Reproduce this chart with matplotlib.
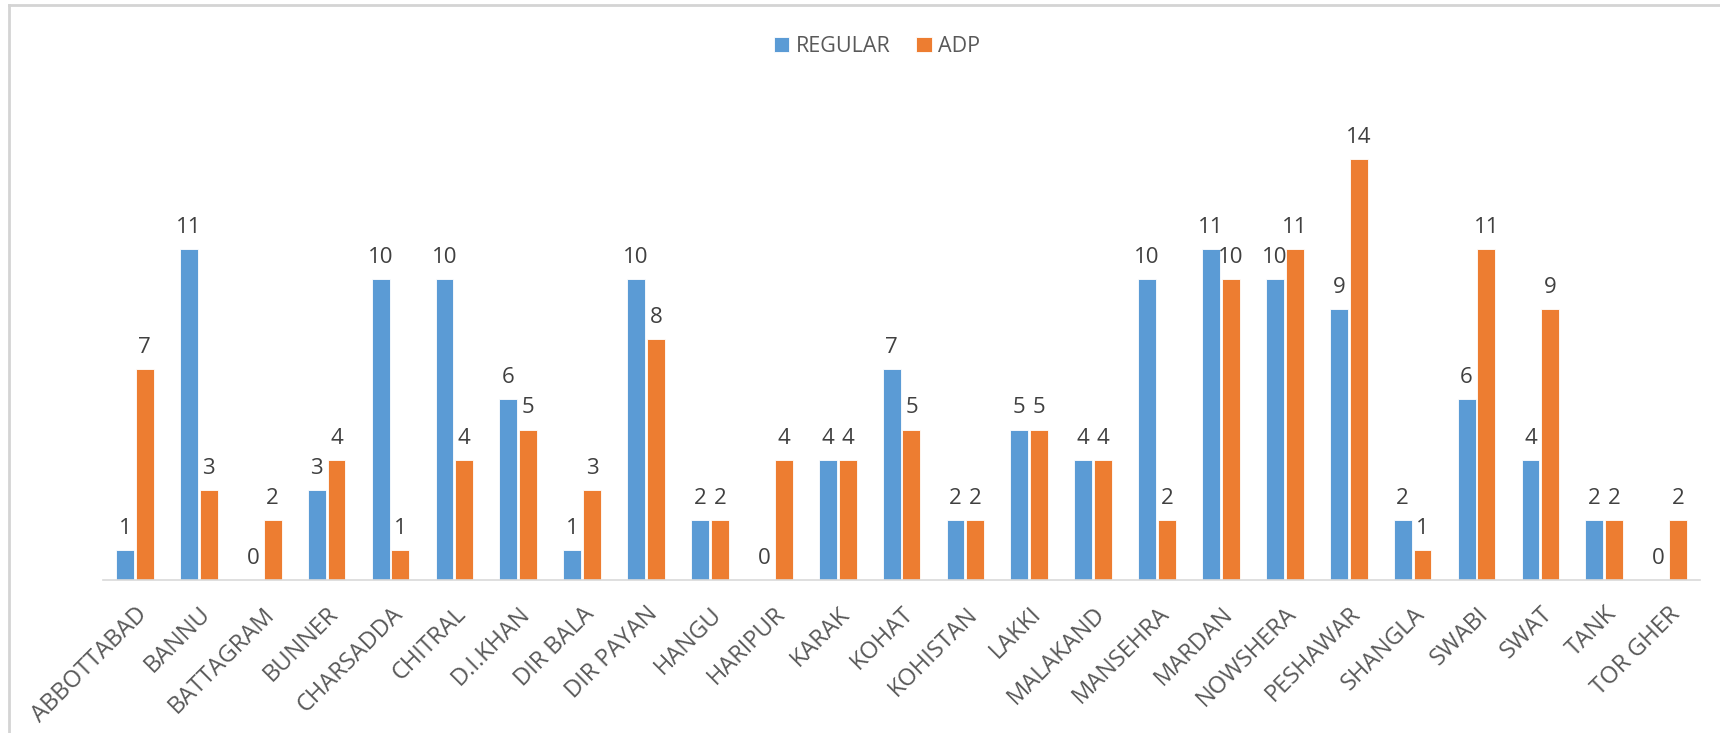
import matplotlib.pyplot as plt
from matplotlib.lines import Line2D
import numpy as np

plt.rcParams['font.family'] = ['Open Sans', 'DejaVu Sans']

districts = ['ABBOTTABAD', 'BANNU', 'BATTAGRAM', 'BUNNER', 'CHARSADDA', 'CHITRAL',
             'D.I.KHAN', 'DIR BALA', 'DIR PAYAN', 'HANGU', 'HARIPUR', 'KARAK', 'KOHAT',
             'KOHISTAN', 'LAKKI', 'MALAKAND', 'MANSEHRA', 'MARDAN', 'NOWSHERA',
             'PESHAWAR', 'SHANGLA', 'SWABI', 'SWAT', 'TANK', 'TOR GHER']
regular = [1, 11, 0, 3, 10, 10, 6, 1, 10, 2, 0, 4, 7, 2, 5, 4, 10, 11, 10, 9, 2, 6, 4, 2, 0]
adp = [7, 3, 2, 4, 1, 4, 5, 3, 8, 2, 4, 4, 5, 2, 5, 4, 2, 10, 11, 14, 1, 11, 9, 2, 2]

blue = '#5B9BD5'
orange = '#ED7D31'
txt = '#595959'

fig = plt.figure(figsize=(17.2, 7.33), dpi=100)
ax = fig.add_axes([0.0599, 0.2087, 0.9285, 0.657])

x = np.arange(len(districts))
w = 0.28
b1 = ax.bar(x - 0.155, regular, w, color=blue, edgecolor='white', linewidth=0.6, label='REGULAR')
b2 = ax.bar(x + 0.155, adp, w, color=orange, edgecolor='white', linewidth=0.6, label='ADP')
ax.bar_label(b1, padding=8, fontsize=16, color='#404040')
ax.bar_label(b2, padding=8, fontsize=16, color='#404040')

ax.set_xlim(-0.5, len(districts) - 0.5)
ax.set_ylim(0, 16)
ax.set_yticks([])
for s in ['top', 'right', 'left']:
    ax.spines[s].set_visible(False)
ax.spines['bottom'].set_color('#D9D9D9')
ax.spines['bottom'].set_linewidth(1.2)
ax.set_xticks(x)
ax.set_xticklabels(districts, rotation=45, ha='right', rotation_mode='anchor',
                   fontsize=17, color=txt)
ax.tick_params(axis='x', length=0, pad=16)

fig.legend(loc='center', bbox_to_anchor=(0.51, 0.936), ncol=2, frameon=False,
           fontsize=15.5, handlelength=0.7, handleheight=0.7, handletextpad=0.3,
           columnspacing=1.2, labelcolor=txt)

# outer chart border (top and left only visible in the crop)
fig.add_artist(Line2D([9 / 1720, 1], [1 - 5 / 733, 1 - 5 / 733], color='#D4D4D4', lw=2))
fig.add_artist(Line2D([9 / 1720, 9 / 1720], [0, 1 - 5 / 733], color='#D4D4D4', lw=2))

fig.savefig('out.png', dpi=100)
